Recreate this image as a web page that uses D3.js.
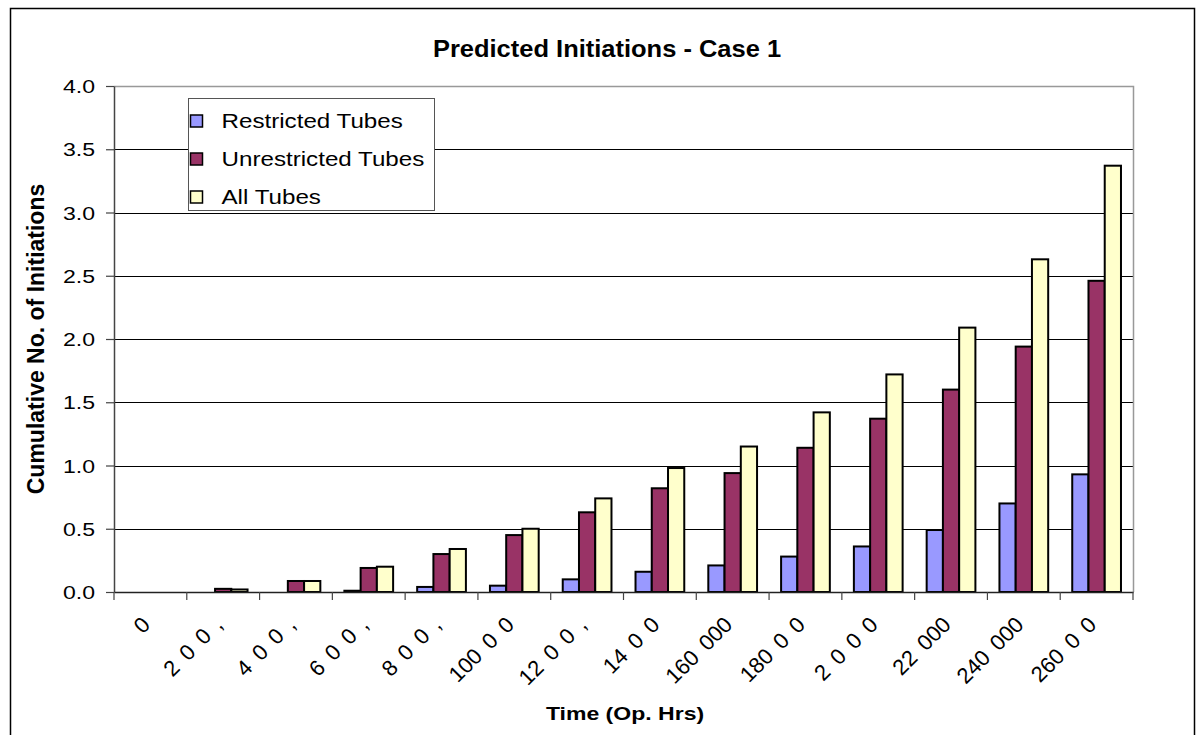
<!DOCTYPE html>
<html>
<head>
<meta charset="utf-8">
<script src="https://cdn.jsdelivr.net/npm/d3@7/dist/d3.min.js"></script>
<style>
  html, body { margin: 0; padding: 0; background: #fff; }
  svg { display: block; font-family: "Liberation Sans", Arial, sans-serif; }
</style>
</head>
<body>
<div id="chart"></div>
<script>
// Datos
const categorias = ['0', '2 0 0 ,', '4 0 0 ,', '6 0 0 ,', '8 0 0 ,', '100 0 0', '12 0 0 ,', '14 0 0',
  '160 000', '180 0 0', '2 0 0 0', '22 000', '240 000', '260 0 0'];
const series = ['Restricted Tubes', 'Unrestricted Tubes', 'All Tubes'];
const restringidos = [0, 0, 0, 0.01, 0.04, 0.05, 0.10, 0.16, 0.21, 0.28, 0.36, 0.49, 0.70, 0.93];
const noRestringidos = [0, 0.025, 0.087, 0.19, 0.30, 0.45, 0.63, 0.82, 0.94, 1.14, 1.37, 1.60, 1.94, 2.46];
const todos = [0, 0.02, 0.087, 0.20, 0.34, 0.50, 0.74, 0.98, 1.15, 1.42, 1.72, 2.09, 2.63, 3.37];
const ticksY = [0, 0.5, 1, 1.5, 2, 2.5, 3, 3.5, 4];

//Colores
const COLORES = ['#9999FF', '#993366', '#FFFFCC'];
const FUENTE = '"Liberation Sans", Arial, sans-serif';

let width = 1198, height = 735;
let margin = {top: 86, right: 65, bottom: 143, left: 114};
let w = width - margin.left - margin.right,
    h = height - margin.top - margin.bottom;

let svg = d3.select('#chart').append('svg')
    .attr('width', width)
    .attr('height', height);

//Marco exterior
svg.append('rect')
    .attr('x', 10.5).attr('y', 8.5)
    .attr('width', 1184).attr('height', 740)
    .attr('fill', 'none').attr('stroke', '#000').attr('stroke-width', 1.5);

let g = svg.append('g').attr('transform', 'translate(' + margin.left + ',' + margin.top + ')');

let x0 = d3.scaleBand().domain(categorias).range([0, w]).padding(0);
let x1 = d3.scaleBand().domain(series).range([0, x0.bandwidth()]).paddingInner(0).paddingOuter(0.74);
let y = d3.scaleLinear().domain([0, 4]).range([h, 0]);

//Rejilla
g.append('g').selectAll('line')
    .data(ticksY.filter(d => d > 0 && d < 4))
    .enter().append('line')
    .attr('x1', 0).attr('x2', w)
    .attr('y1', d => Math.round(y(d)) + 0.5).attr('y2', d => Math.round(y(d)) + 0.5)
    .attr('stroke', '#000').attr('stroke-width', 1);

//Marco del área
g.append('path')
    .attr('d', 'M0,' + (y(4) + 0.5) + 'H' + (w + 0.5) + 'V' + h)
    .attr('fill', 'none').attr('stroke', '#999').attr('stroke-width', 1.5);

//Barras
let datos = categorias.map((c, i) => ({cat: c, vals: [restringidos[i], noRestringidos[i], todos[i]]}));

g.append('g').selectAll('g')
    .data(datos)
    .enter().append('g')
    .attr('transform', d => 'translate(' + x0(d.cat) + ',0)')
    .selectAll('rect')
    .data(d => d.vals.map((v, j) => ({serie: series[j], v: v, j: j})).filter(e => e.v > 0))
    .enter().append('rect')
    .attr('x', d => x1(d.serie))
    .attr('y', d => y(d.v))
    .attr('width', x1.bandwidth())
    .attr('height', d => h - y(d.v))
    .attr('fill', d => COLORES[d.j])
    .attr('stroke', '#000')
    .attr('stroke-width', 2);

//Eje Y
let yAxis = d3.axisLeft(y).tickValues(ticksY).tickFormat(d3.format('.1f')).tickSize(8).tickSizeOuter(0);
let gy = g.append('g').call(yAxis);
gy.select('.domain').attr('stroke', '#444').attr('stroke-width', 1.5);
gy.selectAll('.tick line').attr('stroke', '#444').attr('stroke-width', 1.2);
gy.selectAll('.tick text')
    .attr('font-size', 18.6).attr('font-family', FUENTE).attr('fill', '#000')
    .attr('x', 0).attr('dy', null).attr('y', 6.5)
    .attr('transform', 'translate(-19,0) scale(1.24,1)');

//Eje X
let xAxis = d3.axisBottom(x0).tickSize(0).tickFormat('');
let gx = g.append('g').attr('transform', 'translate(0,' + h + ')').call(xAxis);
gx.select('.domain').attr('stroke', '#222').attr('stroke-width', 1.5);
gx.selectAll('.sep').data(d3.range(categorias.length + 1)).enter().append('line')
    .attr('class', 'sep')
    .attr('x1', i => i * x0.step()).attr('x2', i => i * x0.step())
    .attr('y1', 0).attr('y2', 8)
    .attr('stroke', '#444').attr('stroke-width', 1.2);

gx.selectAll('.lbl').data(categorias).enter().append('text')
    .attr('class', 'lbl')
    .attr('transform', d => 'translate(' + (x0(d) + x0.bandwidth() / 2 + 1) + ',34) rotate(-45)')
    .attr('text-anchor', 'end')
    .attr('font-size', 22)
    .attr('word-spacing', 4)
    .attr('fill', '#000')
    .text(d => d);

//Títulos
svg.append('text')
    .attr('transform', 'translate(607,57) scale(1.04,1)')
    .attr('text-anchor', 'middle')
    .attr('font-size', 24.5).attr('font-weight', 'bold')
    .text('Predicted Initiations - Case 1');

svg.append('text')
    .attr('transform', 'translate(625,720) scale(1.28,1)')
    .attr('text-anchor', 'middle')
    .attr('font-size', 18).attr('font-weight', 'bold')
    .text('Time (Op. Hrs)');

svg.append('text')
    .attr('transform', 'translate(44,' + (margin.top + h / 2) + ') rotate(-90)')
    .attr('text-anchor', 'middle')
    .attr('font-size', 23).attr('font-weight', 'bold')
    .text('Cumulative No. of Initiations');

//Leyenda
let leyenda = svg.append('g').attr('transform', 'translate(188,98)');
leyenda.append('rect')
    .attr('x', 0.5).attr('y', 0.5).attr('width', 246).attr('height', 112)
    .attr('fill', '#fff').attr('stroke', '#555').attr('stroke-width', 1);
let items = leyenda.selectAll('.item').data(series).enter().append('g')
    .attr('class', 'item')
    .attr('transform', (d, i) => 'translate(0,' + (23 + i * 38) + ')');
items.append('rect')
    .attr('x', 2.5).attr('y', -6).attr('width', 12).attr('height', 12)
    .attr('fill', (d, i) => COLORES[i]).attr('stroke', '#000').attr('stroke-width', 1.5);
items.append('text')
    .attr('transform', 'translate(33.5,6.5) scale(1.24,1)')
    .attr('font-size', 19.5)
    .text(d => d);
</script>
</body>
</html>
